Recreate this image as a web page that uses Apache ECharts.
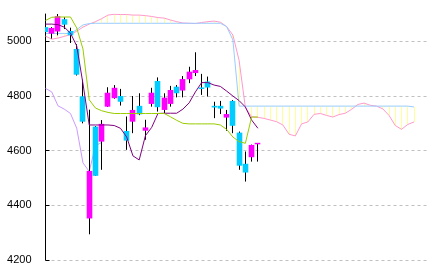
<!DOCTYPE html>
<html>
<head>
<meta charset="utf-8">
<script src="https://cdn.jsdelivr.net/npm/echarts@6/dist/echarts.min.js"></script>
<style>
html,body{margin:0;padding:0;background:#fff;}
#chart{width:433px;height:274px;}
</style>
</head>
<body>
<div id="chart"></div>
<script>
// ---- data (index 0..61 on the x axis) ----
const slotCount = 62;
const yTicks = [4200, 4400, 4600, 4800, 5000];

const opens  = [5052,5028,5036,5081,5038,4972,4799,4352,4688,4633,4761,4792,4800,4672,4706,4764,4673,4771,4855,4749,4771,4834,4820,4861,4884,4831,4853,4764,4764,4721,4782,4666,4552,4576,4625];
const closes = [5034,5049,5092,5061,5022,4878,4706,4526,4508,4698,4812,4830,4779,4637,4749,4733,4685,4812,4759,4794,4822,4810,4862,4889,4895,4826,4831,4758,4754,4734,4691,4545,4520,4621,4627];
const lows   = [5020,5010,5022,5045,4994,4875,4700,4294,4508,4530,4760,4790,4765,4603,4664,4730,4640,4761,4743,4737,4761,4795,4795,4847,4873,4804,4798,4719,4734,4673,4664,4530,4487,4560,4560];
const highs  = [5060,5052,5103,5088,5050,4990,4860,4750,4690,4712,4832,4840,4826,4725,4800,4810,4713,4830,4868,4810,4837,4840,4873,4907,4960,4881,4871,4779,4782,4749,4785,4670,4597,4622,4628];

const tenkan = [5063,5063,5061,5052,5030,4983,4845,4694,4694,4694,4694,4692,4682,4650,4581,4566,4655,4685,4736,4737,4737,4737,4752,4775,4815,4849,4849,4840,4835,4818,4800,4783,4760,4712,4682];
const kijun  = [5076,5088,5089,5089,5089,5049,4972,4786,4756,4746,4740,4736,4736,4736,4736,4736,4736,4736,4736,4736,4724,4711,4700,4698,4698,4698,4698,4698,4694,4678,4650,4633,4627,4723,4723];
const chikou = [4828,4815,4764,4752,4736,4682,4555,4524,4618,4630];

const spanA = [5019,5008,5012,5018,5025,5037,5052,5063,5072,5083,5096,5099,5098,5098,5096,5096,5094,5091,5087,5085,
               5078,5072,5067,5066,5065,5069,5072,5074,5070,5054,5023,4930,4758,4724,4722,4718,4712,4706,4694,4660,
               4654,4698,4705,4733,4736,4729,4723,4732,4737,4751,4769,4774,4766,4763,4753,4729,4692,4678,4696,4705];
const spanB = [5029,5029,5029,5029,5028,5043,5060,5065,5066,5066,5066,5066,5066,5066,5066,5066,5066,5066,5066,5066,
               5066,5066,5066,5066,5066,5066,5066,5066,5066,5054,5005,4763,4763,4763,4763,4763,4763,4763,4763,4763,
               4763,4763,4763,4763,4763,4763,4763,4763,4763,4763,4763,4763,4763,4763,4763,4763,4763,4763,4763,4760];

// ---- build ----
const categories = Array.from({length: slotCount}, (_, i) => String(i));
const candleData = opens.map((o, i) => [i, o, closes[i], lows[i], highs[i]]);
const cloudData = spanA.map((a, i) => [i, a, spanB[i]]);

const chart = echarts.init(document.getElementById('chart'), null, {renderer: 'canvas'});

function crisp(x) { return Math.round(x - 0.5) + 0.5; }

function renderCandle(params, api) {
  const i = api.value(0), o = api.value(1), c = api.value(2), l = api.value(3), h = api.value(4);
  const pO = api.coord([i, o]), pC = api.coord([i, c]), pL = api.coord([i, l]), pH = api.coord([i, h]);
  const w = 5.6;
  const x = crisp(pO[0]);
  let top = Math.min(pO[1], pC[1]);
  let hgt = Math.abs(pO[1] - pC[1]);
  if (hgt < 1.5) { top -= (1.5 - hgt) / 2; hgt = 1.5; }
  const up = c >= o;
  return {
    type: 'group',
    children: [
      {type: 'line', shape: {x1: x, y1: pH[1], x2: x, y2: pL[1]}, style: {stroke: '#000', lineWidth: 1}},
      {type: 'rect', shape: {x: x - w / 2, y: top, width: w, height: hgt}, style: {fill: up ? '#ff00ff' : '#00ccff'}}
    ]
  };
}

function renderCloud(params, api) {
  const i = api.value(0);
  const pA = api.coord([i, api.value(1)]);
  const pB = api.coord([i, api.value(2)]);
  const x = crisp(pA[0]);
  return {type: 'line', shape: {x1: x, y1: pA[1], x2: x, y2: pB[1]}, style: {stroke: '#ffff99', lineWidth: 1}};
}

function lineSeries(name, data, color, z) {
  return {
    name, type: 'line', data, showSymbol: false, symbol: 'none', z,
    lineStyle: {color, width: 1}, animation: false, silent: true
  };
}

chart.setOption({
  animation: false,
  backgroundColor: '#fff',
  grid: {left: 45.5, right: 6.5, top: 14, bottom: 14, containLabel: false},
  xAxis: {
    type: 'category', data: categories, boundaryGap: false,
    axisLine: {show: false}, axisTick: {show: false}, axisLabel: {show: false}, splitLine: {show: false}
  },
  yAxis: {
    type: 'value', min: 4200, max: 5100, interval: 200,
    axisLine: {show: true, lineStyle: {color: '#000', width: 1}},
    axisTick: {show: true, inside: true, length: 4, lineStyle: {color: '#000'}},
    axisLabel: {
      color: '#000', fontSize: 11, fontFamily: 'Liberation Sans', margin: 14,
      showMaxLabel: false,
      formatter: v => (yTicks.indexOf(v) >= 0 ? String(v) : '')
    },
    splitLine: {show: true, showMaxLine: false, lineStyle: {color: '#c0c0c0', type: [3, 3], width: 1}}
  },
  series: [
    {type: 'custom', name: 'cloud', data: cloudData, renderItem: renderCloud, z: 1, clip: true,
     encode: {x: 0, y: [1, 2]}, silent: true},
    lineSeries('spanA', spanA, '#ff99cc', 2),
    lineSeries('spanB', spanB, '#99ccff', 2),
    lineSeries('chikou', chikou, '#cc99ff', 3),
    {type: 'custom', name: 'candles', data: candleData, renderItem: renderCandle, z: 4, clip: true,
     encode: {x: 0, y: [1, 2, 3, 4]}, silent: true},
    lineSeries('tenkan', tenkan, '#800080', 5),
    lineSeries('kijun', kijun, '#99cc00', 5)
  ]
});
</script>
</body>
</html>
